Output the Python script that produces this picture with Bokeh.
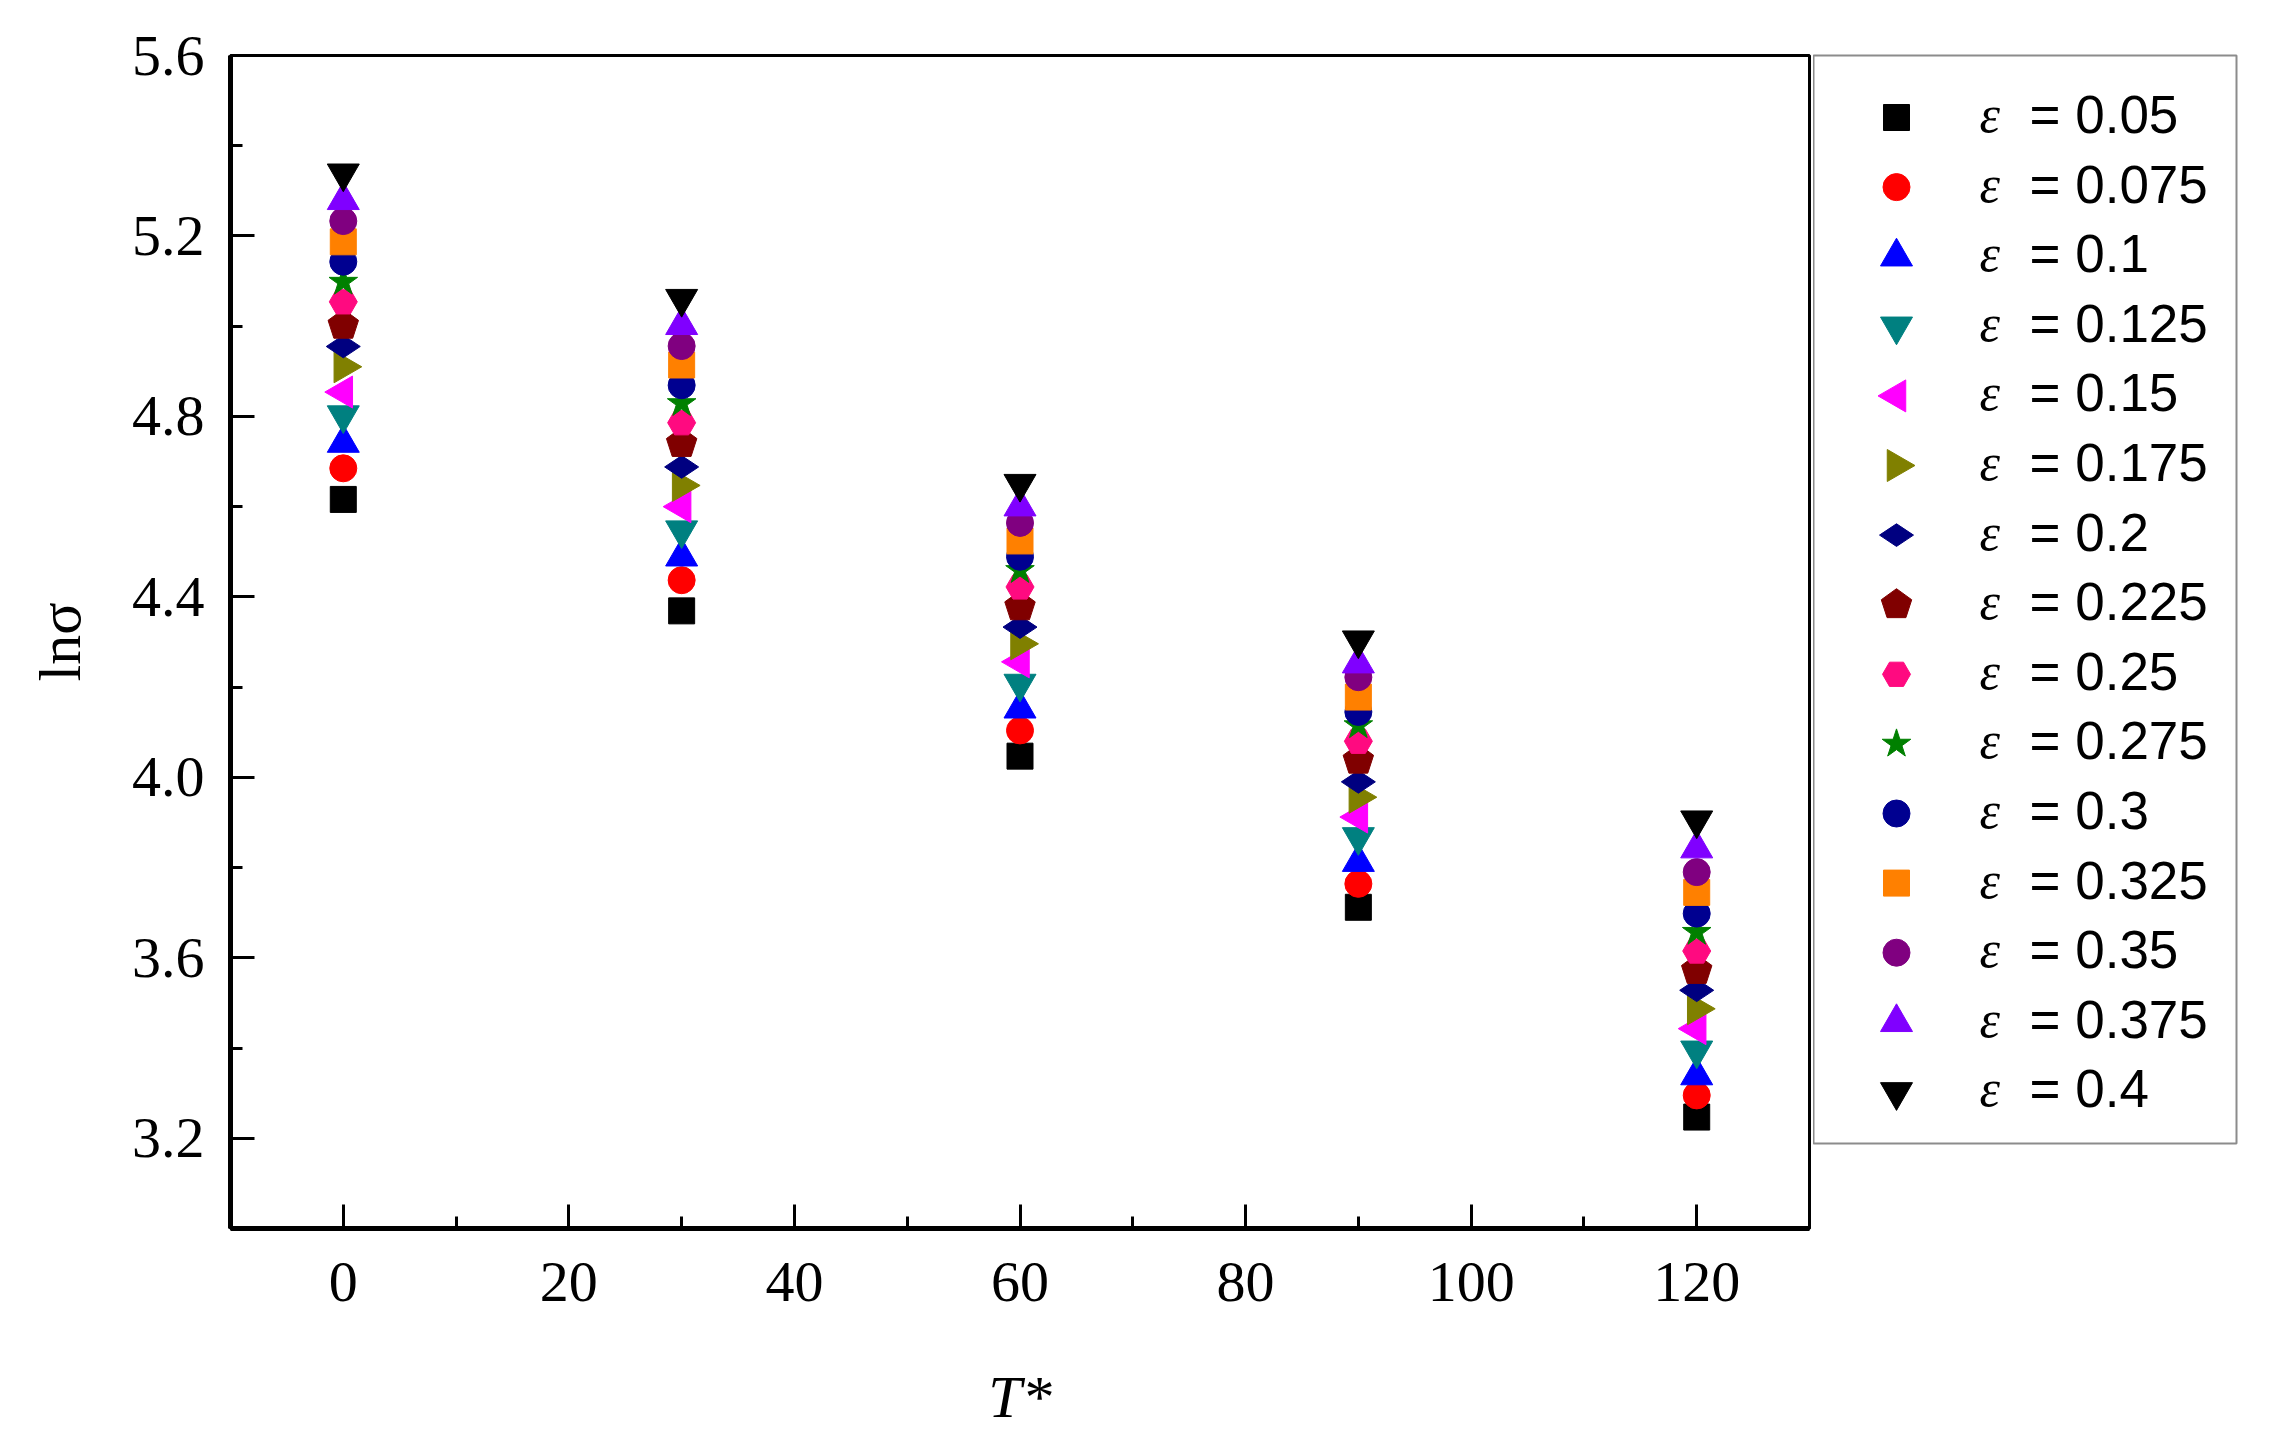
import numpy as np
from bokeh.plotting import figure
from bokeh.layouts import row
from bokeh.models import Range1d, FixedTicker, PrintfTickFormatter
from bokeh.core.properties import value
from bokeh.embed import file_html
from bokeh.resources import INLINE

# ---- data ----
T_star = [0, 30, 60, 90, 120]
eps_labels = ["0.05", "0.075", "0.1", "0.125", "0.15", "0.175", "0.2", "0.225",
              "0.25", "0.275", "0.3", "0.325", "0.35", "0.375", "0.4"]
ln_sigma_0050 = [4.616, 4.369, 4.047, 3.712, 3.247]
ln_sigma_0075 = [4.685, 4.437, 4.104, 3.764, 3.295]
ln_sigma_0100 = [4.741, 4.489, 4.152, 3.812, 3.339]
ln_sigma_0125 = [4.803, 4.548, 4.208, 3.868, 3.395]
ln_sigma_0150 = [4.854, 4.600, 4.256, 3.912, 3.443]
ln_sigma_0175 = [4.910, 4.647, 4.296, 3.956, 3.487]
ln_sigma_0200 = [4.955, 4.688, 4.333, 3.990, 3.528]
ln_sigma_0225 = [5.002, 4.740, 4.378, 4.038, 3.572]
ln_sigma_0250 = [5.054, 4.786, 4.422, 4.080, 3.615]
ln_sigma_0275 = [5.098, 4.829, 4.459, 4.115, 3.657]
ln_sigma_0300 = [5.143, 4.869, 4.489, 4.145, 3.698]
ln_sigma_0325 = [5.187, 4.914, 4.524, 4.178, 3.745]
ln_sigma_0350 = [5.233, 4.956, 4.564, 4.222, 3.790]
ln_sigma_0375 = [5.279, 5.002, 4.600, 4.252, 3.842]
ln_sigma_0400 = [5.339, 5.061, 4.651, 4.304, 3.905]
series = [ln_sigma_0050, ln_sigma_0075, ln_sigma_0100, ln_sigma_0125, ln_sigma_0150,
          ln_sigma_0175, ln_sigma_0200, ln_sigma_0225, ln_sigma_0250, ln_sigma_0275,
          ln_sigma_0300, ln_sigma_0325, ln_sigma_0350, ln_sigma_0375, ln_sigma_0400]
y_ticks = [3.2, 3.6, 4.0, 4.4, 4.8, 5.2, 5.6]
y_minor = [3.0, 3.4, 3.8, 4.2, 4.6, 5.0, 5.4]
x_ticks = [0, 20, 40, 60, 80, 100, 120]
x_minor = [-10, 10, 30, 50, 70, 90, 110, 130]

# ---- styles: marker, colour, size (px), rotation ----
styles = [
    ("square", "#000000", 26, 0.0),
    ("circle", "#FF0000", 27, 0.0),
    ("triangle", "#0000FF", 32, 0.0),
    ("inverted_triangle", "#008080", 32, 0.0),
    ("triangle", "#FF00FF", 32, np.pi / 2),
    ("triangle", "#808000", 32, -np.pi / 2),
    ("diamond", "#000080", 34, np.pi / 2),
    ("pentagon", "#800000", 16, 0.0),
    ("hex", "#FF0A80", 28, 0.0),
    ("star", "#008000", 30, 0.0),
    ("circle", "#000090", 27, 0.0),
    ("square", "#FF8000", 26, 0.0),
    ("circle", "#800080", 27, 0.0),
    ("triangle", "#8000FF", 32, 0.0),
    ("inverted_triangle", "#000000", 32, 0.0),
]


def draw_marker(fig, xs, ys, style):
    mk, col, sz, ang = style
    if mk == "pentagon":
        return fig.ngon(x=xs, y=ys, radius=sz, radius_units="screen", n=5,
                        angle=ang, fill_color=col, line_color=col)
    return fig.scatter(x=xs, y=ys, marker=mk, size=sz, angle=ang,
                       fill_color=col, line_color=col)


# ---- main plot ----
p = figure(frame_width=1579, frame_height=1173,
           x_range=Range1d(-10, 130), y_range=Range1d(3.0, 5.6),
           output_backend="svg", toolbar_location=None,
           min_border_left=230, min_border_top=55, min_border_bottom=200,
           min_border_right=4)
p.grid.visible = False
p.outline_line_color = "black"
p.outline_line_width = 3
p.background_fill_color = "white"
p.border_fill_color = "white"

for ys, st in zip(series, styles):
    draw_marker(p, T_star, ys, st)

p.xaxis.ticker = FixedTicker(ticks=x_ticks, minor_ticks=x_minor)
p.yaxis.ticker = FixedTicker(ticks=y_ticks, minor_ticks=y_minor)
p.yaxis.formatter = PrintfTickFormatter(format="%.1f")
for ax in (p.xaxis[0], p.yaxis[0]):
    ax.axis_line_width = 5
    ax.axis_line_color = "black"
    ax.major_tick_in = 24
    ax.major_tick_out = 0
    ax.minor_tick_in = 12
    ax.minor_tick_out = 0
    ax.major_tick_line_width = 3
    ax.minor_tick_line_width = 3
    ax.major_tick_line_color = "black"
    ax.minor_tick_line_color = "black"
    ax.major_label_text_font = "Liberation Serif"
    ax.major_label_text_font_size = "58px"
    ax.major_label_text_color = "black"
    ax.axis_label_text_font = "Liberation Serif"
    ax.axis_label_text_font_size = "60px"
    ax.axis_label_text_color = "black"

p.yaxis.major_label_standoff = 26
p.xaxis.major_label_standoff = 34
p.yaxis.axis_label = "ln\u03c3"
p.yaxis.axis_label_text_font_style = "normal"
p.yaxis.axis_label_standoff = 36
p.xaxis.axis_label = "T*"
p.xaxis.axis_label_text_font_style = "italic"
p.xaxis.axis_label_standoff = 60

# ---- legend panel ----
LEG_W, LEG_H = 423, 1088
leg = figure(frame_width=LEG_W, frame_height=LEG_H,
             x_range=Range1d(0, LEG_W), y_range=Range1d(LEG_H, 0),
             output_backend="svg", toolbar_location=None,
             x_axis_location=None, y_axis_location=None,
             min_border_left=0, min_border_right=5,
             min_border_top=52, min_border_bottom=288)
leg.grid.visible = False
leg.outline_line_color = "#8c8c8c"
leg.outline_line_width = 2
leg.background_fill_color = "white"
leg.border_fill_color = "white"

row_step = 69.6
row_y = [62 + i * row_step for i in range(len(eps_labels))]
text_y = [y - 3 for y in row_y]
for i, st in enumerate(styles):
    draw_marker(leg, [83], [row_y[i]], st)
leg.text(x=[166] * len(eps_labels), y=text_y, text=["\u03b5"] * len(eps_labels),
         text_font=value("Liberation Serif"), text_font_style="italic",
         text_font_size="52px", text_color="black", text_baseline="middle")
leg.text(x=[216] * len(eps_labels), y=text_y, text=["= " + s for s in eps_labels],
         text_font=value("Liberation Sans"), text_font_size="53px",
         text_color="black", text_baseline="middle")

layout = row(p, leg, spacing=0)
open("out.html", "w").write(file_html(layout, INLINE))
